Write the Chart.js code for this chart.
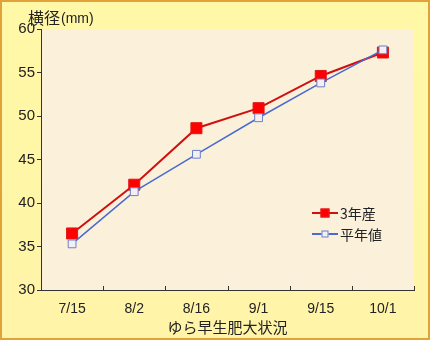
<!DOCTYPE html>
<html><head><meta charset="utf-8">
<script src="https://cdn.jsdelivr.net/npm/chart.js@4/dist/chart.umd.min.js"></script>
<style>html,body{margin:0;padding:0;background:#fff}canvas{display:block}</style>
</head><body>
<canvas id="c" width="437" height="342"></canvas>
<script>
const categories = ['7/15','8/2','8/16','9/1','9/15','10/1'];
const series3 = [36.5, 42.1, 48.6, 50.9, 54.6, 57.3];
const seriesAvg = [35.3, 41.3, 45.6, 49.8, 53.8, 57.6];
const seriesNames = ['3年産','平年値'];
const yTicks = [30,35,40,45,50,55,60];
const xTitle = 'ゆら早生肥大状況';
const FONT = "'Noto Sans CJK JP', 'Noto Sans', sans-serif";
const NUMFONT = "'Liberation Sans', Arial, sans-serif";

const bgPlugin = {
  id: 'bg',
  beforeDraw(chart) {
    const ctx = chart.ctx, a = chart.chartArea;
    ctx.save();
    const g = ctx.createLinearGradient(0,0,0,340);
    g.addColorStop(0,'#FFF8A6'); g.addColorStop(1,'#FFF4A8');
    ctx.fillStyle = g;
    ctx.fillRect(1,1,428,338);
    ctx.strokeStyle = '#E2A23A'; ctx.lineWidth = 2;
    ctx.strokeRect(1,1,428,338);
    ctx.fillStyle = '#FBF1DB';
    ctx.fillRect(a.left, a.top, a.right - a.left, a.bottom - a.top);
    ctx.restore();
  },
  afterDraw(chart) {
    const ctx = chart.ctx, a = chart.chartArea, xs = chart.scales.x;
    ctx.save();
    ctx.strokeStyle = '#333'; ctx.lineWidth = 1;
    ctx.beginPath();
    for (let i = 0; i <= categories.length; i++) {
      const px = Math.round(xs.getPixelForValue(i - 0.5)) + 0.5;
      ctx.moveTo(px, a.bottom); ctx.lineTo(px, a.bottom - 4);
    }
    ctx.stroke();
    // y title
    ctx.fillStyle = '#222';
    ctx.textBaseline = 'alphabetic';
    ctx.font = '16px ' + FONT;
    ctx.fillText('横径', 28, 24);
    const w = ctx.measureText('横径').width;
    ctx.font = '14px ' + NUMFONT;
    ctx.fillText('(mm)', 29 + w, 23);
    // legend
    const items = [
      {name: seriesNames[0], color: '#D01010', fill: '#FF0000', stroke: '#E02020', size: 9, y: 213},
      {name: seriesNames[1], color: '#4A6AD0', fill: '#F3EFF3', stroke: '#6A80C8', size: 7, y: 234}
    ];
    items.forEach(it => {
      ctx.strokeStyle = it.color; ctx.lineWidth = 2;
      ctx.beginPath(); ctx.moveTo(312, it.y); ctx.lineTo(338, it.y); ctx.stroke();
      ctx.fillStyle = it.fill;
      ctx.fillRect(325 - it.size/2, it.y - it.size/2, it.size, it.size);
      ctx.strokeStyle = it.stroke; ctx.lineWidth = 1;
      ctx.strokeRect(325 - it.size/2 + 0.5, it.y - it.size/2 + 0.5, it.size - 1, it.size - 1);
      ctx.fillStyle = '#222';
      ctx.font = '14px ' + FONT;
      ctx.textBaseline = 'middle';
      ctx.fillText(it.name, 340, it.y + 1);
    });
    ctx.restore();
  }
};

new Chart(document.getElementById('c'), {
  type: 'line',
  data: {
    labels: categories,
    datasets: [
      {label: seriesNames[1], data: seriesAvg, borderColor: '#4A6AD0', borderWidth: 1.5,
       pointStyle: 'rect', pointRadius: 5.5, pointBackgroundColor: '#F3EFF3',
       pointBorderColor: '#6A80C8', pointBorderWidth: 1, tension: 0},
      {label: seriesNames[0], data: series3, borderColor: '#D01010', borderWidth: 2,
       pointStyle: 'rect', pointRadius: 7.8, pointBackgroundColor: '#FF0000',
       pointBorderColor: '#E01818', pointBorderWidth: 1, tension: 0}
    ]
  },
  options: {
    responsive: false, animation: false,
    layout: {padding: {left: 0, top: 29, right: 23, bottom: 0}},
    plugins: {legend: {display: false}, tooltip: {enabled: false}},
    scales: {
      x: {
        offset: true,
        grid: {display: false},
        border: {display: true, color: '#333', width: 1},
        ticks: {color: '#222', font: {size: 14, family: NUMFONT}, padding: 3, maxRotation: 0},
        title: {display: true, text: xTitle, color: '#222', font: {size: 15, family: FONT}, padding: {top: 0, bottom: 6}},
        afterFit(s) { s.height = 52; }
      },
      y: {
        min: 30, max: 60,
        afterBuildTicks(s) { s.ticks = yTicks.map(v => ({value: v})); },
        grid: {display: true, drawOnChartArea: false, drawTicks: true, tickLength: 4, color: '#333'},
        border: {display: true, color: '#333', width: 1},
        ticks: {color: '#222', font: {size: 15, family: NUMFONT}, padding: 2},
        afterFit(s) { s.width = 41; }
      }
    }
  },
  plugins: [bgPlugin]
});
</script>
</body></html>
